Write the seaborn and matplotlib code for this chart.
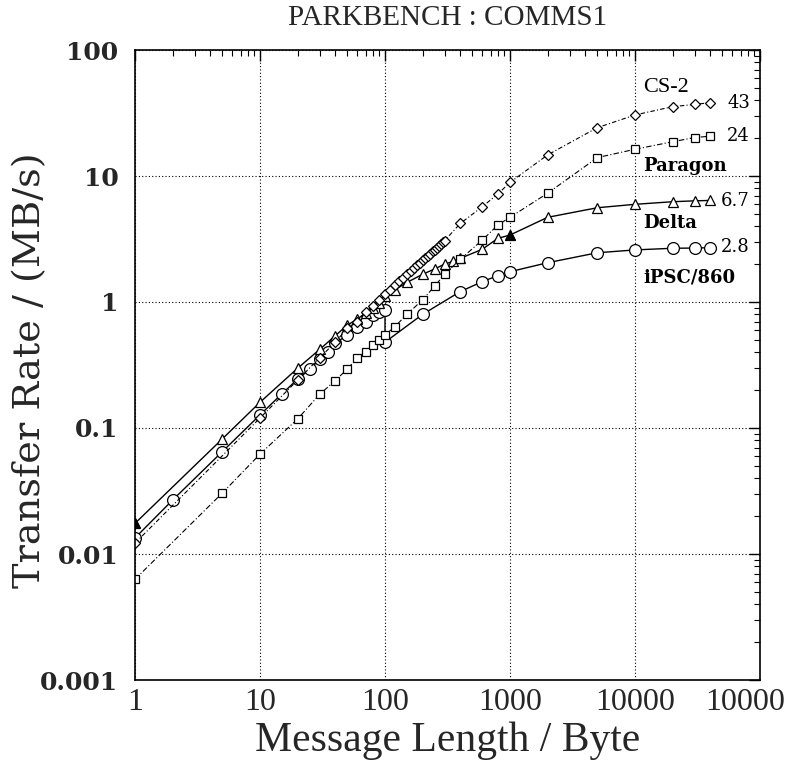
import numpy as np
import pandas as pd
import matplotlib
matplotlib.use("Agg")
import matplotlib.pyplot as plt
import matplotlib.transforms as mtransforms
import seaborn as sns
from matplotlib.ticker import FixedLocator, FixedFormatter, LogLocator, NullFormatter

# ---------------- data ----------------
ipsc_x = [1, 2, 5, 10, 15, 20, 25, 30, 35, 40, 50, 60, 70, 80, 90, 100, 100,
          200, 400, 600, 800, 1000, 2000, 5000, 10000, 20000, 30000, 40000]
ipsc_y = [0.0134, 0.0268, 0.065, 0.127, 0.187, 0.244, 0.292, 0.351, 0.404, 0.47,
          0.547, 0.637, 0.70, 0.79, 0.84, 0.865, 0.48,
          0.798, 1.21, 1.45, 1.62, 1.74, 2.05, 2.46, 2.59, 2.67, 2.68, 2.70]

delta_x = [1, 5, 10, 20, 30, 40, 50, 60, 70, 80, 90, 100, 120, 150, 200, 250, 300,
           350, 400, 600, 800, 1000, 2000, 5000, 10000, 20000, 30000, 40000]
delta_y = [0.0175, 0.082, 0.16, 0.298, 0.42, 0.54, 0.656, 0.73, 0.82, 0.90, 0.98,
           1.12, 1.25, 1.43, 1.66, 1.83, 2.0, 2.1, 2.22, 2.62, 3.2, 3.4, 4.7, 5.6,
           5.96, 6.25, 6.35, 6.4]
delta_filled_x = [1, 1000]   # points drawn as filled triangles in the reference

paragon_x = [1, 5, 10, 20, 30, 40, 50, 60, 70, 80, 90, 100, 120, 150, 200, 250, 300,
             400, 600, 800, 1000, 2000, 5000, 10000, 20000, 30000, 40000]
paragon_y = [0.0063, 0.0305, 0.062, 0.118, 0.185, 0.238, 0.294, 0.36, 0.404, 0.456,
             0.50, 0.547, 0.637, 0.80, 1.04, 1.34, 1.66, 2.18, 3.1, 4.08, 4.7, 7.3,
             14.0, 16.3, 18.7, 20.2, 20.7]

cs2_x = [1, 10, 20, 30, 40, 50, 60, 70, 80, 90,
         100, 110, 120, 130, 140, 150, 160, 170, 180, 190, 200,
         210, 220, 230, 240, 250, 260, 270, 280, 290, 300,
         400, 600, 800, 1000, 2000, 5000, 10000, 20000, 30000, 40000]
cs2_y = [0.0122, 0.12, 0.24, 0.36, 0.48, 0.62, 0.70, 0.84, 0.93, 1.04,
         1.15, 1.25, 1.36, 1.46, 1.56, 1.66, 1.76, 1.86, 1.95, 2.05, 2.14,
         2.24, 2.33, 2.42, 2.52, 2.60, 2.70, 2.80, 2.88, 2.98, 3.07,
         4.2, 5.7, 7.2, 8.9, 14.7, 24.2, 30.5, 35.5, 37.0, 38.2]

xtick_vals = [1, 10, 100, 1000, 10000, 100000]
xtick_labels = ["1", "10", "100", "1000", "10000", "10000"]
ytick_vals = [0.001, 0.01, 0.1, 1, 10, 100]
ytick_labels = ["0.001", "0.01", "0.1", "1", "10", "100"]

# ---------------- style ----------------
sns.set_style("white")
plt.rcParams["font.family"] = ["DejaVu Serif"]
plt.rcParams["xtick.direction"] = "in"
plt.rcParams["ytick.direction"] = "in"

fig = plt.figure(figsize=(7.92, 7.66), dpi=100)
ax = fig.add_axes([135 / 792, 1 - 680 / 766, 625 / 792, 630 / 766])

series = [
    ("iPSC/860", ipsc_x, ipsc_y, "o", 8.5, "-", 1.0),
    ("Delta", delta_x, delta_y, "^", 7.0, "-", 1.0),
    ("Paragon", paragon_x, paragon_y, "s", 6.3, (0, (5, 2, 1, 2)), 0.8),
    ("CS-2", cs2_x, cs2_y, "D", 5.0, (0, (4, 2, 1, 2)), 0.8),
]
for name, xs, ys, mk, ms, ls, lw in series:
    df = pd.DataFrame({"x": xs, "y": ys})
    sns.lineplot(data=df, x="x", y="y", ax=ax, sort=False, estimator=None,
                 color="black", linestyle=ls, linewidth=lw, marker=mk,
                 markersize=ms, markerfacecolor="white", markeredgecolor="black",
                 markeredgewidth=0.9)

dfill = pd.DataFrame({"x": delta_filled_x,
                      "y": [delta_y[delta_x.index(v)] for v in delta_filled_x]})
sns.scatterplot(data=dfill, x="x", y="y", ax=ax, marker="^", s=45,
                color="black", edgecolor="black", linewidth=0.9, zorder=5)

ax.set_xscale("log")
ax.set_yscale("log")
ax.set_xlim(1, 100000)
ax.set_ylim(0.001, 100)

ax.xaxis.set_major_locator(FixedLocator(xtick_vals))
ax.xaxis.set_major_formatter(FixedFormatter(xtick_labels))
ax.yaxis.set_major_locator(FixedLocator(ytick_vals))
ax.yaxis.set_major_formatter(FixedFormatter(ytick_labels))
ax.xaxis.set_minor_locator(LogLocator(base=10, subs=np.arange(2, 10), numticks=20))
ax.yaxis.set_minor_locator(LogLocator(base=10, subs=np.arange(2, 10), numticks=20))
ax.xaxis.set_minor_formatter(NullFormatter())
ax.yaxis.set_minor_formatter(NullFormatter())

ax.tick_params(which="both", top=True, right=True, direction="in", color="black")
ax.tick_params(which="major", length=8, width=1.0)
ax.tick_params(which="minor", length=4, width=0.8)
ax.tick_params(axis="x", which="major", pad=6)
ax.tick_params(axis="y", which="major", pad=12)

xlabs = ax.get_xticklabels()
for lab in xlabs:
    lab.set_fontfamily("Liberation Serif")
    lab.set_fontsize(23)
# the last label sits partly left of its tick, as in the reference
shift = mtransforms.ScaledTranslation(-15 / 100, 0, fig.dpi_scale_trans)
xlabs[-1].set_transform(xlabs[-1].get_transform() + shift)

for lab in ax.get_yticklabels():
    lab.set_fontfamily("DejaVu Serif")
    lab.set_fontsize(18)
    lab.set_fontweight("bold")

for sp in ax.spines.values():
    sp.set_color("black")
    sp.set_linewidth(1.2)

ax.grid(True, which="major", color="black", linestyle=(0, (1, 2)), linewidth=0.8)

ax.set_xlabel("Message Length / Byte", fontfamily="Liberation Serif", fontsize=30)
ax.xaxis.label.set_va("center")
ax.xaxis.set_label_coords(0.5, (680 - 741) / 630)

ax.set_ylabel("Transfer Rate / (MB/s)", fontfamily="DejaVu Serif", fontsize=27.5)
ax.yaxis.label.set_va("center")
ax.yaxis.set_label_coords((30 - 135) / 625, 0.5 - 5 / 630)

ax.set_title("PARKBENCH : COMMS1", fontfamily="Liberation Serif", fontsize=21, pad=18)

# ---------------- annotations ----------------
def px2data(px, py):
    xd = 10 ** ((px - 135) / 125.0)
    yd = 10 ** (2 - (py - 50) / 126.0)
    return xd, yd

notes = [
    ("CS-2", 643, 87, "Liberation Serif", 16, "normal"),
    ("43", 727, 103, "DejaVu Serif", 13, "normal"),
    ("24", 727, 136, "DejaVu Serif", 13, "normal"),
    ("Paragon", 643, 166, "DejaVu Serif", 13, "bold"),
    ("6.7", 721, 201, "DejaVu Serif", 13, "normal"),
    ("Delta", 643, 223, "DejaVu Serif", 13, "bold"),
    ("2.8", 721, 247, "DejaVu Serif", 13, "normal"),
    ("iPSC/860", 643, 278, "DejaVu Serif", 13, "bold"),
]
for txt, px, py, fam, fs, fw in notes:
    xd, yd = px2data(px, py)
    ax.text(xd, yd, txt, fontfamily=fam, fontsize=fs, fontweight=fw,
            ha="left", va="center", color="black")

fig.savefig("out.png", dpi=100, facecolor="white")
